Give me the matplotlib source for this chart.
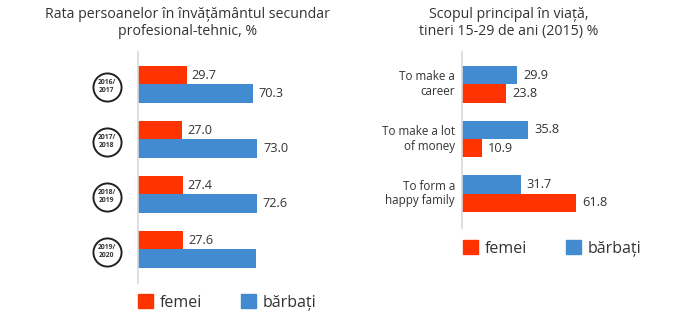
import matplotlib
matplotlib.use("Agg")
import matplotlib.pyplot as plt
import matplotlib.transforms as mtransforms
from matplotlib.patches import Patch
import numpy as np

# ---------------- data ----------------
years = ["2016/\n2017", "2017/\n2018", "2018/\n2019", "2019/\n2020"]
femei_left = [29.7, 27.0, 27.4, 27.6]
barbati_left = [70.3, 73.0, 72.6, 72.4]
femei_left_labels = ["29.7", "27.0", "27.4", "27.6"]
barbati_left_labels = ["70.3", "73.0", "72.6", ""]

goals = ["To make a\ncareer", "To make a lot\nof money", "To form a\nhappy family"]
barbati_right = [29.9, 35.8, 31.7]
femei_right = [23.8, 10.9, 61.8]

title_left = "Rata persoanelor în învățământul secundar\nprofesional-tehnic, %"
title_right = "Scopul principal în viață,\ntineri 15-29 de ani (2015) %"
legend_labels = ["femei", "bărbați"]

# ---------------- style ----------------
RED = "#FF3300"
BLUE = "#428BD0"
TXT = "#333333"
SPINE = "#D9D9D9"
plt.rcParams["font.family"] = ["Open Sans", "DejaVu Sans"]

W, H = 692, 327
fig = plt.figure(figsize=(W / 100, H / 100), dpi=100)


def px_axes(x0, y_top, w, y_bot):
    return fig.add_axes([x0 / W, 1 - y_bot / H, w / W, (y_bot - y_top) / H])


def style(ax):
    for s in ["top", "right", "bottom"]:
        ax.spines[s].set_visible(False)
    ax.spines["left"].set_color(SPINE)
    ax.spines["left"].set_linewidth(1.2)
    ax.set_xticks([])
    ax.set_yticks([])
    ax.patch.set_alpha(0)


bh = 0.336
off = bh / 2

# ---------------- left chart ----------------
axL = px_axes(138, 52, 200, 283)
style(axL)
yL = np.arange(len(years))
axL.barh(yL - off, femei_left, height=bh, color=RED)
axL.barh(yL + off, barbati_left, height=bh, color=BLUE)
axL.set_xlim(0, 200 / 1.636)
axL.set_ylim(len(years) - 1 + 0.61, -0.59)

for i in range(len(years)):
    axL.annotate(femei_left_labels[i], (femei_left[i], yL[i] - off), xytext=(3.5, 0),
                 textcoords="offset points", va="center", ha="left", fontsize=9.2, color=TXT)
    if barbati_left_labels[i]:
        axL.annotate(barbati_left_labels[i], (barbati_left[i], yL[i] + off), xytext=(4, 0),
                     textcoords="offset points", va="center", ha="left", fontsize=9.2, color=TXT)

blendL = mtransforms.blended_transform_factory(axL.transAxes, axL.transData)
axL.scatter([-0.155] * len(years), yL + 0.04, s=410, marker="o", facecolor="white",
            edgecolor="#222222", linewidth=1.4, transform=blendL, clip_on=False, zorder=3)
for i, lab in enumerate(years):
    axL.text(-0.155, yL[i] + 0.04, lab, transform=blendL, ha="center", va="center",
             fontsize=4.9, fontweight="bold", color=TXT, linespacing=1.3, zorder=4)

fig.text(188 / W, 1 - 23 / H, title_left, ha="center", va="center", fontsize=10.2,
         color=TXT, linespacing=1.25)

axL.legend(handles=[Patch(color=RED), Patch(color=BLUE)], labels=legend_labels, ncol=2,
           loc="center left", bbox_to_anchor=(138 / W, 1 - 302.5 / H),
           bbox_transform=fig.transFigure, frameon=False, fontsize=11.5,
           handlelength=0.94, handleheight=0.94, handletextpad=0.45,
           columnspacing=2.4, borderpad=0, borderaxespad=0, labelcolor=TXT)

# ---------------- right chart ----------------
axR = px_axes(462, 52, 200, 228)
style(axR)
yR = np.arange(len(goals))
axR.barh(yR - off, barbati_right, height=bh, color=BLUE)
axR.barh(yR + off, femei_right, height=bh, color=RED)
axR.set_xlim(0, 200 / 1.85)
axR.set_ylim(len(goals) - 1 + 0.63, -0.59)

for i in range(len(goals)):
    axR.annotate(f"{barbati_right[i]:.1f}", (barbati_right[i], yR[i] - off), xytext=(4.3, 0),
                 textcoords="offset points", va="center", ha="left", fontsize=9.2, color=TXT)
    axR.annotate(f"{femei_right[i]:.1f}", (femei_right[i], yR[i] + off), xytext=(4.3, 0),
                 textcoords="offset points", va="center", ha="left", fontsize=9.2, color=TXT)

blendR = mtransforms.blended_transform_factory(axR.transAxes, axR.transData)
for i, lab in enumerate(goals):
    axR.text(-0.035, yR[i], lab, transform=blendR, ha="right", va="center",
             fontsize=8.4, color=TXT, linespacing=1.15)

fig.text(509 / W, 1 - 23 / H, title_right, ha="center", va="center", fontsize=10.2,
         color=TXT, linespacing=1.25)

axR.legend(handles=[Patch(color=RED), Patch(color=BLUE)], labels=legend_labels, ncol=2,
           loc="center left", bbox_to_anchor=(463 / W, 1 - 248.5 / H),
           bbox_transform=fig.transFigure, frameon=False, fontsize=11.5,
           handlelength=0.94, handleheight=0.94, handletextpad=0.45,
           columnspacing=2.4, borderpad=0, borderaxespad=0, labelcolor=TXT)

fig.savefig("out.png", dpi=100, facecolor="white")
